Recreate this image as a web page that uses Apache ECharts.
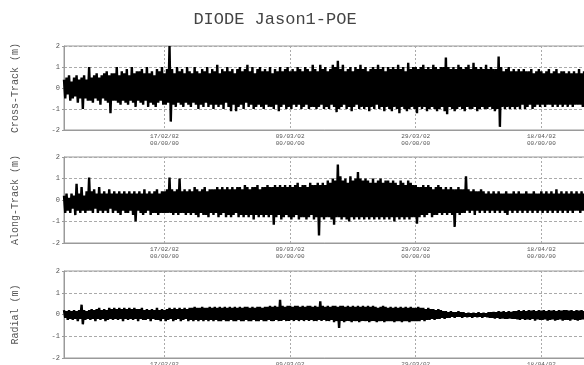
<!DOCTYPE html>
<html>
<head>
<meta charset="utf-8">
<script src="https://cdn.jsdelivr.net/npm/echarts@6/dist/echarts.min.js"></script>
<style>
  html, body { margin: 0; padding: 0; background: #fff; }
  #chart { width: 584px; height: 365px; }
</style>
</head>
<body>
<div id="chart"></div>
<script>
// samples every 0.2 day from 01/02/02, x axis in days relative to 17/02/02
const stepDays = 0.2;
const firstDay = -16;
const dateTicks = [0, 20, 40, 60];
const dateLabels = ['17/02/02', '09/03/02', '29/03/02', '18/04/02'];
const timeLabel = '00/00/00';
const panelNames = ['Cross-Track (m)', 'Along-Track (m)', 'Radial (m)'];
const yTicks = [-2, -1, 0, 1, 2];

const crossTrack = [
  0.4,-0.5,0.5,-0.3,0.6,-0.6,0.3,-0.5,0.5,-0.4,0.6,-0.7,0.4,-0.5,0.5,-1.0,0.6,-0.5,0.4,-0.6,
  1.0,-0.6,0.5,-0.7,0.6,-0.5,0.7,-0.6,0.5,-0.8,0.6,-0.5,0.7,-0.6,0.8,-0.7,0.6,-1.2,0.7,-0.6,
  0.7,-0.6,1.0,-0.7,0.6,-0.8,0.8,-0.6,0.7,-0.7,0.9,-0.8,0.6,-0.6,1.0,-0.7,0.7,-0.9,0.8,-0.6,
  0.8,-0.7,0.9,-0.8,0.7,-0.6,1.0,-0.9,0.7,-0.7,0.8,-0.8,0.6,-0.9,0.9,-0.7,0.8,-0.6,1.0,-0.8,
  0.7,-0.8,0.9,-0.7,2.0,-1.6,0.9,-0.8,0.7,-0.9,1.0,-0.7,0.8,-0.8,0.9,-0.9,0.7,-0.7,1.0,
  -0.8,0.8,-0.9,0.7,-0.7,1.0,-0.8,0.8,-1.0,0.7,-0.8,0.9,-0.9,0.8,-0.7,1.0,-0.9,0.7,-0.8,0.9,
  -1.0,0.8,-0.8,1.1,-0.9,0.7,-0.8,0.9,-1.0,0.8,-0.7,1.0,-0.9,0.8,-1.1,0.9,-0.8,0.7,-1.1,0.9,
  -0.9,1.0,-0.8,0.8,-1.0,0.9,-0.7,1.1,-0.9,0.8,-0.8,1.0,-1.0,0.7,-0.9,0.9,-0.8,1.0,-0.9,0.8,
  -1.0,0.9,-0.8,0.8,-0.9,1.0,-0.9,0.7,-1.0,0.9,-0.8,0.8,-1.1,1.0,-0.9,0.8,-0.8,0.9,-1.0,1.0,
  -0.9,0.8,-1.0,0.9,-0.8,0.8,-0.9,1.0,-0.8,0.9,-1.0,0.8,-0.9,1.0,-0.8,0.9,-1.0,0.8,-0.9,1.1,
  -0.9,0.9,-1.0,0.8,-0.9,1.1,-0.8,0.9,-1.0,1.0,-0.9,0.8,-1.0,0.9,-0.8,1.1,-0.9,1.0,-1.15,1.3,
  -1.0,0.9,-0.9,1.1,-0.8,0.8,-1.0,0.9,-0.9,1.0,-1.1,0.8,-0.9,1.0,-0.8,0.9,-1.0,1.1,-0.9,0.9,
  -1.0,1.0,-0.9,0.8,-1.1,0.9,-0.9,1.0,-1.0,0.9,-0.8,1.1,-1.0,0.9,-0.9,1.0,-1.1,0.8,-0.9,1.0,
  -1.0,0.9,-1.1,1.0,-0.9,0.9,-1.0,1.1,-1.2,0.9,-0.9,1.0,-1.0,0.8,-1.1,1.2,-1.0,0.9,-0.9,1.0,
  -1.0,1.0,-1.2,0.9,-0.9,1.0,-1.0,1.1,-0.9,0.9,-1.1,1.0,-1.0,0.9,-0.9,1.1,-1.0,1.0,-1.1,0.9,
  -1.0,1.0,-0.9,1.0,-1.1,1.45,-1.25,1.0,-0.9,0.9,-1.0,1.0,-1.1,0.9,-1.0,1.1,-0.9,1.0,-1.0,0.9,
  -1.1,1.0,-0.9,1.1,-1.0,0.9,-1.0,1.2,-0.9,1.0,-1.1,0.9,-1.0,1.0,-0.9,0.9,-1.0,1.1,-1.0,0.9,
  -0.9,1.0,-1.0,0.9,-1.1,0.9,-1.0,1.5,-1.85,1.0,-0.9,0.8,-1.0,0.9,-0.9,1.0,-1.0,0.8,-0.9,0.9,
  -1.0,0.8,-0.9,0.9,-1.0,0.8,-0.8,0.9,-1.0,0.8,-0.9,0.8,-0.8,0.9,-1.0,0.7,-0.9,0.8,-0.8,0.9,
  -0.9,0.8,-0.8,0.7,-0.9,0.8,-0.8,0.9,-0.8,0.7,-0.9,0.8,-0.8,0.9,-0.9,0.7,-0.8,0.8,-0.9,0.8,
  -0.8,0.7,-0.9,0.8,-0.8,0.7,-0.9,0.8,-0.8,0.7,-0.8,0.9,-0.8,0.7,-0.9,0.8,-0.8,0.7,-0.8,0.8,-0.7,0.8
];

const alongTrack = [
  0.2,-0.6,0.3,-0.5,0.1,-0.6,0.3,-0.4,0.2,-0.7,0.75,-0.5,0.3,-0.6,0.6,-0.5,0.2,-0.6,0.4,-0.5,
  1.05,-0.5,0.4,-0.6,0.5,-0.4,0.3,-0.6,0.6,-0.5,0.3,-0.6,0.4,-0.5,0.3,-0.6,0.5,-0.4,0.3,-0.6,
  0.4,-0.5,0.3,-0.6,0.4,-0.7,0.3,-0.5,0.4,-0.6,0.3,-0.6,0.4,-0.5,0.3,-0.7,0.4,-1.0,0.3,-0.5,
  0.4,-0.6,0.3,-0.7,0.5,-0.6,0.3,-0.5,0.4,-0.7,0.3,-0.6,0.4,-0.6,0.5,-0.7,0.3,-0.6,0.4,-0.6,
  0.4,-0.6,0.5,-0.6,1.05,-0.6,0.5,-0.7,0.4,-0.6,0.5,-0.7,1.0,-0.6,0.4,-0.6,0.5,-0.7,0.4,
  -0.6,0.5,-0.7,0.4,-0.6,0.6,-0.7,0.5,-0.8,0.4,-0.6,0.5,-0.7,0.6,-0.7,0.4,-0.8,0.5,-0.6,0.5,
  -0.7,0.5,-0.6,0.6,-0.8,0.5,-0.7,0.6,-0.6,0.5,-0.8,0.6,-0.7,0.5,-0.8,0.6,-0.7,0.5,-0.6,0.6,
  -0.8,0.6,-0.7,0.5,-0.8,0.7,-0.7,0.6,-0.8,0.5,-0.7,0.6,-0.9,0.6,-0.7,0.7,-0.8,0.5,-0.7,0.6,
  -0.8,0.6,-0.7,0.7,-0.8,0.6,-0.7,0.6,-1.15,0.7,-0.8,0.6,-0.7,0.7,-0.9,0.6,-0.8,0.7,-0.7,0.6,
  -0.8,0.7,-0.9,0.6,-0.8,0.7,-0.7,0.8,-0.9,0.6,-0.8,0.7,-0.8,0.7,-0.9,0.6,-0.8,0.8,-0.7,0.7,
  -0.9,0.7,-0.8,0.8,-1.65,0.7,-0.8,0.8,-0.9,0.7,-0.8,0.9,-0.8,0.8,-0.9,1.0,-1.15,0.9,-0.8,1.65,
  -0.8,1.1,-0.9,0.9,-0.8,1.0,-0.9,0.8,-1.0,1.1,-0.8,0.9,-0.9,1.0,-0.8,1.3,-0.9,1.0,-0.8,0.9,
  -0.9,1.0,-0.8,0.9,-0.9,0.8,-0.8,1.0,-0.9,0.8,-0.8,0.9,-0.9,1.0,-0.8,0.8,-0.9,0.9,-0.8,0.9,
  -0.9,0.8,-0.8,0.9,-1.0,0.8,-0.8,0.7,-0.9,0.9,-0.8,0.8,-0.9,0.7,-0.8,0.9,-0.9,0.8,-0.8,0.7,
  -0.8,0.7,-1.1,0.6,-0.8,0.6,-0.7,0.7,-0.8,0.6,-0.7,0.7,-0.6,0.6,-0.8,0.5,-0.7,0.6,-0.7,0.7,
  -0.6,0.6,-0.7,0.5,-0.6,0.6,-0.7,0.5,-0.6,0.6,-0.7,0.5,-1.25,0.5,-0.6,0.6,-0.7,0.5,-0.6,0.5,
  -0.6,1.1,-0.5,0.5,-0.6,0.4,-0.5,0.5,-0.7,0.4,-0.5,0.4,-0.6,0.5,-0.5,0.4,-0.6,0.3,-0.5,0.4,
  -0.6,0.3,-0.5,0.4,-0.6,0.3,-0.5,0.4,-0.6,0.3,-0.5,0.3,-0.6,0.4,-0.7,0.3,-0.5,0.3,-0.6,0.4,
  -0.5,0.3,-0.6,0.4,-0.5,0.3,-0.6,0.3,-0.5,0.4,-0.6,0.3,-0.5,0.3,-0.6,0.4,-0.5,0.3,-0.6,0.3,
  -0.5,0.4,-0.6,0.3,-0.5,0.4,-0.6,0.3,-0.5,0.4,-0.6,0.3,-0.5,0.5,-0.6,0.3,-0.5,0.4,-0.6,0.3,
  -0.5,0.4,-0.6,0.3,-0.5,0.4,-0.6,0.3,-0.5,0.4,-0.5,0.3,-0.6,0.4,-0.5,0.3,-0.5,0.4,-0.6,0.3,-0.5,0.3
];

const radial = [
  0.2,-0.15,0.15,-0.25,0.2,-0.2,0.15,-0.25,0.2,-0.2,0.15,-0.3,0.2,-0.2,0.45,-0.45,0.2,-0.25,0.15,-0.2,
  0.2,-0.25,0.25,-0.2,0.2,-0.3,0.25,-0.2,0.3,-0.25,0.2,-0.2,0.25,-0.3,0.2,-0.25,0.3,-0.2,0.25,-0.25,
  0.3,-0.2,0.25,-0.25,0.3,-0.2,0.25,-0.3,0.3,-0.2,0.25,-0.25,0.3,-0.2,0.25,-0.25,0.3,-0.2,0.25,-0.3,
  0.25,-0.2,0.3,-0.25,0.2,-0.25,0.25,-0.2,0.2,-0.3,0.25,-0.2,0.2,-0.25,0.3,-0.25,0.2,-0.3,0.25,-0.2,
  0.2,-0.3,0.25,-0.25,0.3,-0.2,0.25,-0.3,0.3,-0.25,0.25,-0.2,0.3,-0.3,0.25,-0.25,0.3,-0.2,0.25,-0.3,
  0.3,-0.25,0.3,-0.3,0.35,-0.25,0.3,-0.3,0.3,-0.25,0.35,-0.3,0.3,-0.25,0.3,-0.3,0.35,-0.25,0.3,-0.3,
  0.35,-0.25,0.3,-0.3,0.35,-0.3,0.3,-0.25,0.35,-0.3,0.3,-0.3,0.35,-0.25,0.3,-0.3,0.35,-0.3,0.3,-0.25,
  0.35,-0.3,0.3,-0.3,0.35,-0.25,0.35,-0.3,0.3,-0.3,0.35,-0.25,0.3,-0.3,0.35,-0.3,0.35,-0.25,0.3,-0.3,
  0.35,-0.3,0.35,-0.25,0.4,-0.3,0.35,-0.3,0.4,-0.25,0.35,-0.3,0.67,-0.3,0.4,-0.25,0.35,-0.3,0.4,-0.3,
  0.4,-0.25,0.35,-0.3,0.4,-0.25,0.4,-0.3,0.35,-0.25,0.4,-0.3,0.35,-0.25,0.4,-0.3,0.4,-0.25,0.35,-0.3,
  0.4,-0.3,0.35,-0.25,0.6,-0.3,0.4,-0.25,0.35,-0.3,0.4,-0.3,0.35,-0.25,0.4,-0.35,0.4,-0.3,0.35,-0.62,
  0.4,-0.3,0.4,-0.35,0.35,-0.3,0.4,-0.3,0.35,-0.35,0.4,-0.3,0.35,-0.3,0.4,-0.35,0.35,-0.3,0.4,-0.3,
  0.35,-0.3,0.4,-0.35,0.35,-0.3,0.4,-0.3,0.35,-0.35,0.3,-0.3,0.35,-0.3,0.4,-0.35,0.35,-0.3,0.3,-0.3,
  0.35,-0.3,0.3,-0.35,0.35,-0.3,0.3,-0.3,0.35,-0.35,0.3,-0.3,0.35,-0.3,0.3,-0.35,0.35,-0.3,0.3,-0.3,
  0.3,-0.3,0.35,-0.3,0.3,-0.25,0.3,-0.3,0.25,-0.25,0.3,-0.25,0.25,-0.2,0.25,-0.25,0.2,-0.2,0.25,-0.2,
  0.2,-0.15,0.15,-0.2,0.15,-0.15,0.1,-0.15,0.15,-0.1,0.1,-0.15,0.1,-0.1,0.15,-0.1,0.1,-0.15,0.1,-0.1,
  0.05,-0.12,0.08,-0.1,0.05,-0.15,0.08,-0.1,0.05,-0.12,0.1,-0.1,0.05,-0.15,0.08,-0.1,0.05,-0.12,0.1,-0.15,
  0.1,-0.15,0.12,-0.18,0.1,-0.15,0.15,-0.2,0.12,-0.18,0.15,-0.2,0.1,-0.2,0.15,-0.18,0.12,-0.2,0.15,-0.2,
  0.15,-0.22,0.2,-0.25,0.15,-0.2,0.2,-0.25,0.15,-0.22,0.2,-0.25,0.18,-0.2,0.2,-0.28,0.15,-0.22,0.2,-0.25,
  0.18,-0.25,0.2,-0.22,0.15,-0.28,0.2,-0.25,0.18,-0.22,0.2,-0.28,0.15,-0.25,0.2,-0.22,0.18,-0.28,0.2,-0.25,
  0.2,-0.25,0.18,-0.28,0.2,-0.22,0.15,-0.25,0.2,-0.28,0.18,-0.25,0.2,-0.22,0.15,-0.28,0.2,-0.25,0.18,-0.25,0.2
];

const mono = 'Liberation Mono, DejaVu Sans Mono, monospace';
const panelTops = [46, 157, 271];
const panelHeights = [84, 86, 87];
const seriesValues = [crossTrack, alongTrack, radial];

var myChart = echarts.init(document.getElementById('chart'));

const grids = panelTops.map((t, i) => ({
  left: 64, top: t, width: 559, height: panelHeights[i],
  outerBoundsMode: 'none', containLabel: false,
  show: true, borderColor: '#9a9a9a', borderWidth: 1
}));

const xAxes = panelTops.map((t, i) => ({
  type: 'value', gridIndex: i,
  min: firstDay, max: 73,
  axisLine: { show: true, onZero: false, lineStyle: { color: '#9a9a9a' } },
  axisTick: { show: false, customValues: dateTicks },
  splitLine: { show: true, lineStyle: { color: '#aaaaaa', type: [2, 2], width: 1 } },
  axisLabel: {
    customValues: dateTicks,
    fontFamily: mono, fontSize: 6, color: '#555', margin: 3, lineHeight: 7,
    formatter(val) {
      const k = dateTicks.indexOf(val);
      return k < 0 ? '' : dateLabels[k] + '\n' + timeLabel;
    }
  }
}));

const yAxes = panelTops.map((t, i) => ({
  type: 'value', gridIndex: i,
  min: yTicks[0], max: yTicks[yTicks.length - 1], interval: 1,
  name: panelNames[i], nameLocation: 'middle', nameGap: 44,
  nameTextStyle: { fontFamily: mono, fontSize: 10, color: '#555' },
  axisLine: { show: true, onZero: false, lineStyle: { color: '#9a9a9a' } },
  axisTick: { show: true, length: 2, lineStyle: { color: '#9a9a9a' } },
  splitLine: { show: true, lineStyle: { color: '#aaaaaa', type: [3, 2], width: 1 } },
  axisLabel: { fontFamily: mono, fontSize: 7, color: '#555', margin: 4 }
}));

const series = seriesValues.map((vals, i) => ({
  type: 'line', xAxisIndex: i, yAxisIndex: i,
  showSymbol: false, symbol: 'none', silent: true,
  lineStyle: { color: '#000', width: 2.4 },
  data: vals.map((v, j) => [firstDay + j * stepDays, v])
}));

myChart.setOption({
  animation: false,
  title: {
    text: 'DIODE Jason1-POE', left: 270, top: 6, textAlign: 'center',
    textStyle: { fontFamily: mono, fontSize: 17, fontWeight: 'normal', color: '#444' }
  },
  grid: grids,
  xAxis: xAxes,
  yAxis: yAxes,
  series: series
});
</script>
</body>
</html>
